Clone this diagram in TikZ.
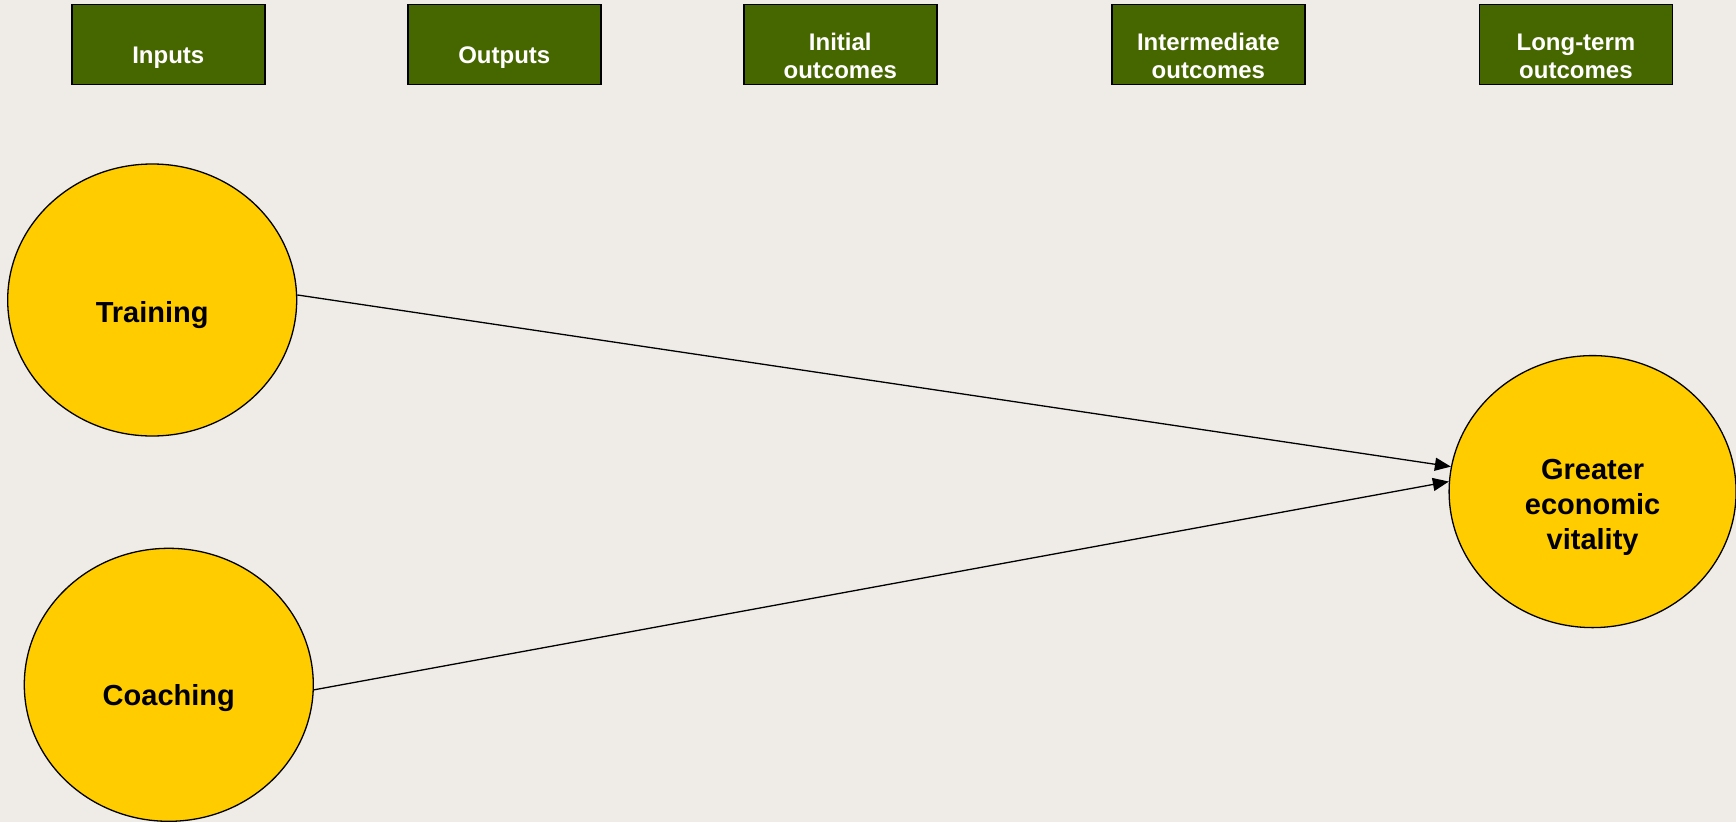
\documentclass[tikz,border=0pt]{standalone}
\usepackage{fontspec}
\setmainfont{Liberation Sans}
\usetikzlibrary{shapes.geometric,arrows.meta}
\definecolor{bg}{RGB}{239,236,231}
\definecolor{hdr}{RGB}{70,102,0}
\definecolor{gold}{RGB}{255,204,0}
\begin{document}
\begin{tikzpicture}[x=1pt,y=-1pt,
  hbox/.style={draw=black,line width=1.5pt,fill=hdr,minimum width=193pt,minimum height=80pt,inner sep=0pt},
  htext/.style={text=white,font=\fontsize{24}{28}\selectfont\bfseries,align=center,inner sep=0pt},
  oval/.style={ellipse,draw=black,line width=1.3pt,fill=gold,inner sep=0pt},
  otext/.style={text=black,font=\fontsize{29}{35}\selectfont\bfseries,align=center,inner sep=0pt},
  conn/.style={line width=1.3pt,-{Triangle[length=16pt,width=13pt]}}]
\fill[bg] (0,0) rectangle (1736,822);
\useasboundingbox (0,0) rectangle (1736,822);
% headers
\node[hbox] (h1) at (168.3,44.3) {};
\node[hbox] (h2) at (504.3,44.3) {};
\node[hbox] (h3) at (840.3,44.3) {};
\node[hbox] (h4) at (1208.4,44.3) {};
\node[hbox] (h5) at (1575.9,44.3) {};
\node[htext] (t1) at ([yshift=-13pt]h1.center) {Inputs};
\node[htext] (t2) at ([yshift=-13pt]h2.center) {Outputs};
\node[htext] (t3) at ([yshift=-12pt]h3.center) {Initial\\outcomes};
\node[htext] (t4) at ([yshift=-12pt]h4.center) {Intermediate\\outcomes};
\node[htext] (t5) at ([yshift=-12pt]h5.center) {Long-term\\outcomes};
% ovals
\node[oval,minimum width=289pt,minimum height=272pt] (train) at (152.2,300) {};
\node[oval,minimum width=289pt,minimum height=273pt] (coach) at (168.8,684.8) {};
\node[oval,minimum width=287pt,minimum height=272pt] (econ) at (1592.6,491.6) {};
\node[otext] (ttrain) at ([yshift=-15pt]train.center) {Training};
\node[otext] (tcoach) at ([yshift=-13pt]coach.center) {Coaching};
\node[otext] (tecon) at ([yshift=-15.5pt]econ.center) {Greater\\economic\\vitality};
% connectors
\draw[conn] (train.2.6) -- (econ.170.3);
\draw[conn] (coach.-2.9) -- (econ.176.9);
\end{tikzpicture}
\end{document}
